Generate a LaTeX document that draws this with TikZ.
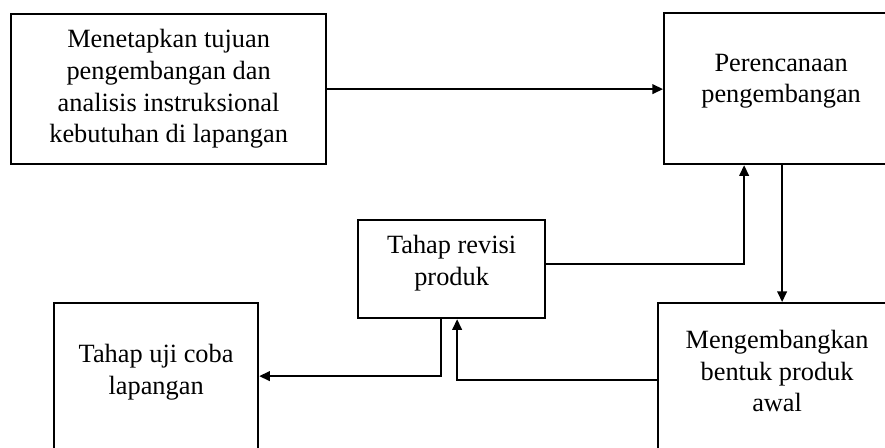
\documentclass[tikz,border=0pt]{standalone}
\usepackage{fontspec}
\setmainfont{Liberation Serif}
\usepackage{tikz}
\usetikzlibrary{calc,positioning,arrows.meta}
\definecolor{InkBlack}{HTML}{000000}
\definecolor{PaperWhite}{HTML}{FFFFFF}
\tikzset{
  stagebox/.style={draw=InkBlack, line width=1.3pt, fill=PaperWhite, rectangle, inner sep=0pt, anchor=north west},
  stagetext/.style={align=center, text=InkBlack, font=\fontsize{15}{18}\selectfont, inner sep=0pt},
  flow/.style={draw=InkBlack, line width=0.8pt, -{Triangle[length=6pt,width=5.5pt]}}
}

\begin{document}
\begin{tikzpicture}[x=0.02cm, y=-0.02cm]
  % Canvas
  \useasboundingbox (0,0) rectangle (885,448);
  \fill[PaperWhite] (0,0) rectangle (885,448);
  \clip (0,0) rectangle (885,448);

  % Stage boxes (the right and bottom ones run past the edge)
  \node[stagebox, minimum width=6.3cm, minimum height=3cm] (goal) at (10,13) {};
  \node[stagebox, minimum width=5cm, minimum height=3.02cm] (plan) at (663,12) {};
  \node[stagebox, minimum width=3.74cm, minimum height=1.96cm] (rev) at (357,219) {};
  \node[stagebox, minimum width=4.08cm, minimum height=3.06cm] (uji) at (53,302) {};
  \node[stagebox, minimum width=5cm, minimum height=3.06cm] (meng) at (657,302) {};

  % Stage texts
  \node[stagetext] (goaltxt) at (goal) {Menetapkan tujuan\\pengembangan dan\\analisis instruksional\\kebutuhan di lapangan};
  \node[stagetext] (plantxt) at ([xshift=-1.6mm,yshift=1.5mm]plan.center) {Perencanaan\\pengembangan};
  \node[stagetext] (revtxt) at ([yshift=1.2mm]rev.center) {Tahap revisi\\produk};
  \node[stagetext] (ujitxt) at ([yshift=1.5mm]uji.center) {Tahap uji coba\\lapangan};
  \node[stagetext] (mengtxt) at ([xshift=-1.2mm,yshift=1.7mm]meng.center) {Mengembangkan\\bentuk produk\\awal};

  % Flow
  \draw[flow] (goal.east) -- (goal.east -| plan.west);
  \draw[flow] ([xshift=-1.4mm]plan.south) -- ([xshift=-1.4mm]plan.south |- meng.north);
  \draw[flow] ([yshift=1mm]rev.east) -| ([xshift=-9mm]plan.south);
  \draw[flow] ([yshift=-0.1mm]meng.west) -| ([xshift=1.1mm]rev.south);
  \draw[flow] ([xshift=-2.1mm]rev.south) |- ([yshift=0.7mm]uji.east);
\end{tikzpicture}
\end{document}
